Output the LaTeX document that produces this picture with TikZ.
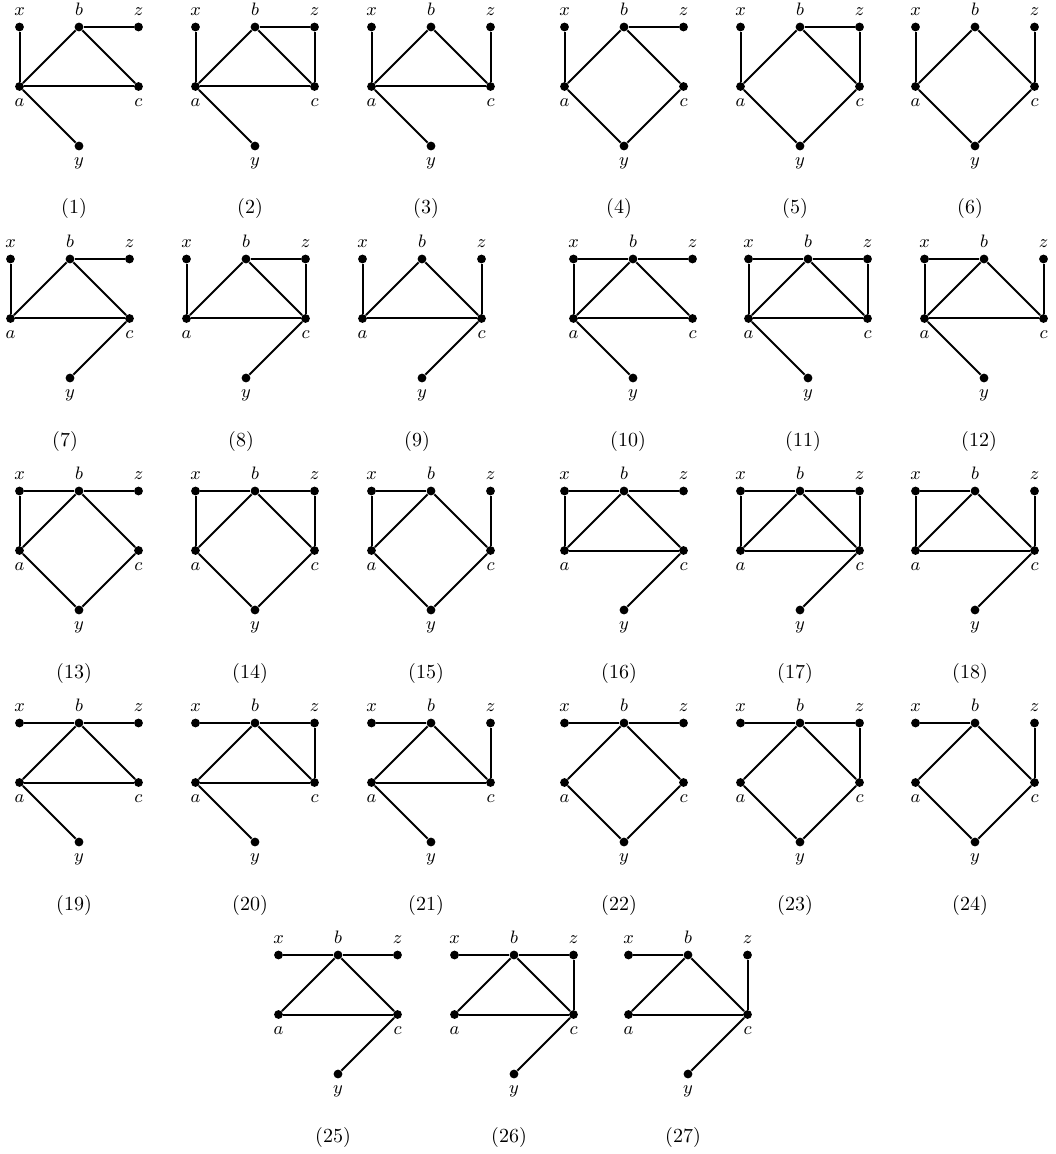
\documentclass[tikz,border=0pt]{standalone}
\usepackage{amsmath}
\usepackage{amssymb}
\usepackage{tikz}

\begin{document}
\begin{tikzpicture}[
    x=0.5pt,
    y=-0.5pt,
    vert/.style={
        circle,
        fill,
        inner sep=0pt,
        minimum size=4.4pt
    },
    vtop/.style={vert, label={[font=\small]above:$#1$}},
    vbot/.style={vert, label={[font=\small]below:$#1$}},
    edge/.style={line width=1pt},
    caption/.style={font=\normalsize}
]
\useasboundingbox (0,0) rectangle (1055,1154);

\foreach \n/\px/\py/\edges in {
    1/79/27/{x/a,b/z,a/c,a/y},
    2/255/27/{x/a,b/z,z/c,a/c,a/y},
    3/431/27/{x/a,z/c,a/c,a/y},
    4/624/27/{x/a,b/z,a/y,c/y},
    5/800/27/{x/a,b/z,z/c,a/y,c/y},
    6/975/27/{x/a,z/c,a/y,c/y},
    7/70/259/{x/a,b/z,a/c,c/y},
    8/246/259/{x/a,b/z,z/c,a/c,c/y},
    9/422/259/{x/a,z/c,a/c,c/y},
    10/633/259/{x/a,x/b,b/z,a/c,a/y},
    11/808/259/{x/a,x/b,b/z,z/c,a/c,a/y},
    12/984/259/{x/a,x/b,z/c,a/c,a/y},
    13/79/491/{x/a,x/b,b/z,a/y,c/y},
    14/255/491/{x/a,x/b,b/z,z/c,a/y,c/y},
    15/431/491/{x/a,x/b,z/c,a/y,c/y},
    16/624/491/{x/a,x/b,b/z,a/c,c/y},
    17/800/491/{x/a,x/b,b/z,z/c,a/c,c/y},
    18/975/491/{x/a,x/b,z/c,a/c,c/y},
    19/79/723/{x/b,b/z,a/c,a/y},
    20/255/723/{x/b,b/z,z/c,a/c,a/y},
    21/431/723/{x/b,z/c,a/c,a/y},
    22/624/723/{x/b,b/z,a/y,c/y},
    23/800/723/{x/b,b/z,z/c,a/y,c/y},
    24/975/723/{x/b,z/c,a/y,c/y},
    25/338/955/{x/b,b/z,a/c,c/y},
    26/514/955/{x/b,b/z,z/c,a/c,c/y},
    27/688/955/{x/b,z/c,a/c,c/y}}{
\begin{scope}[shift={(\px,\py)}]
    \node[vtop=x] (x\n) at (-59.5,0) {};
    \node[vtop=b] (b\n) at (0,0) {};
    \node[vtop=z] (z\n) at (59.5,0) {};
    \node[vbot=a] (a\n) at (-59.5,59.5) {};
    \node[vbot=c] (c\n) at (59.5,59.5) {};
    \node[vbot=y] (y\n) at (0,119) {};
    \node[caption] (cap\n) at (-5,182) {(\n)};

    \draw[edge] (a\n) -- (b\n) -- (c\n);
    \foreach \u/\v in \edges {
        \draw[edge] (\u\n) -- (\v\n);
    }
\end{scope}
}

\end{tikzpicture}
\end{document}
